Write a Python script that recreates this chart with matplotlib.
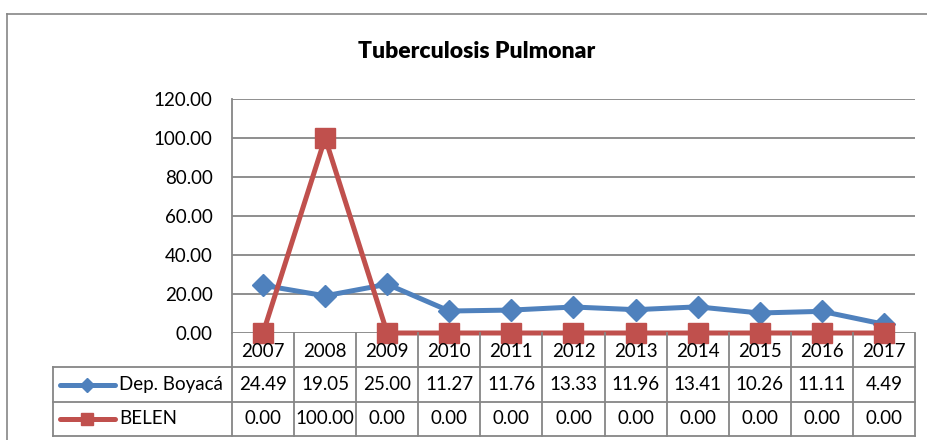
import matplotlib.pyplot as plt
from matplotlib.lines import Line2D

years = ['2007', '2008', '2009', '2010', '2011', '2012', '2013', '2014', '2015', '2016', '2017']
boyaca = [24.49, 19.05, 25.00, 11.27, 11.76, 13.33, 11.96, 13.41, 10.26, 11.11, 4.49]
belen = [0.00, 100.00, 0.00, 0.00, 0.00, 0.00, 0.00, 0.00, 0.00, 0.00, 0.00]
series_names = ['Dep. Boyacá', 'BELEN']
yticks = [0, 20, 40, 60, 80, 100, 120]

W, H = 928, 440
blue = '#4F81BD'
red = '#C0504D'
grid_c = '#868686'
plt.rcParams['font.family'] = ['Lato', 'DejaVu Sans']

fig = plt.figure(figsize=(W / 100, H / 100), dpi=100)

def box(l, t, r, b):
    return [l / W, 1 - b / H, (r - l) / W, (b - t) / H]

# outer chart frame (top + left visible)
fig.add_artist(Line2D([7 / W, 7 / W], [0, 1 - 14 / H], color=grid_c, lw=1.2))
fig.add_artist(Line2D([7 / W, 1], [1 - 14 / H, 1 - 14 / H], color=grid_c, lw=1.2))

fig.text(477 / W, 1 - 52 / H, 'Tuberculosis Pulmonar', ha='center', va='center',
         fontsize=16.5, fontweight='heavy')

fs = 13.5

# plot area
ax = fig.add_axes(box(232, 99, 915, 333))
x = list(range(len(years)))
ax.plot(x, boyaca, color=blue, lw=3.6, marker='D', ms=11, zorder=3, clip_on=False)
ax.plot(x, belen, color=red, lw=3.6, marker='s', ms=14, zorder=4, clip_on=False)
ax.set_xlim(-0.5, len(years) - 0.5)
ax.set_ylim(0, 120)
ax.set_yticks(yticks)
ax.set_yticklabels([f'{v:.2f}' for v in yticks], fontsize=fs)
ax.set_xticks([])
ax.tick_params(axis='y', length=0, pad=14)
ax.grid(axis='y', color=grid_c, lw=1.3)
ax.set_axisbelow(True)
for s in ['top', 'right', 'bottom']:
    ax.spines[s].set_visible(False)
ax.spines['left'].set_color(grid_c)
ax.spines['left'].set_linewidth(1.3)

# data table below the plot
col_w = (915 - 232) / len(years)
leg_cols = (232 - 53) / col_w
tab = fig.add_axes(box(53, 333, 915, 436))
tab.set_xlim(-0.5 - leg_cols, len(years) - 0.5)
tab.set_ylim(3, 0)
tab.axis('off')
lk = dict(color=grid_c, lw=1.3, clip_on=False)
left = -0.5 - leg_cols
right = len(years) - 0.5
for yy in [1, 2, 3]:
    tab.plot([left, right], [yy, yy], **lk)
for i in range(len(years) + 1):
    tab.plot([i - 0.5, i - 0.5], [0, 3], **lk)
tab.plot([left, left], [1, 3], **lk)

for i, yr in enumerate(years):
    tab.text(i, 0.55, yr, ha='center', va='center', fontsize=fs)
    tab.text(i, 1.5, f'{boyaca[i]:.2f}', ha='center', va='center', fontsize=fs)
    tab.text(i, 2.5, f'{belen[i]:.2f}', ha='center', va='center', fontsize=fs)

# legend keys
k0 = left + 7 / col_w
k1 = left + 62 / col_w
km = (k0 + k1) / 2
tab.plot([k0, k1], [1.5, 1.5], color=blue, lw=3.6, solid_capstyle='round')
tab.plot([km], [1.5], color=blue, marker='D', ms=7)
tab.plot([k0, k1], [2.5, 2.5], color=red, lw=3.6, solid_capstyle='round')
tab.plot([km], [2.5], color=red, marker='s', ms=9)
tab.text(left + 66 / col_w, 1.5, series_names[0], ha='left', va='center', fontsize=fs)
tab.text(left + 66 / col_w, 2.5, series_names[1], ha='left', va='center', fontsize=fs)

fig.savefig('out.png', dpi=100)
